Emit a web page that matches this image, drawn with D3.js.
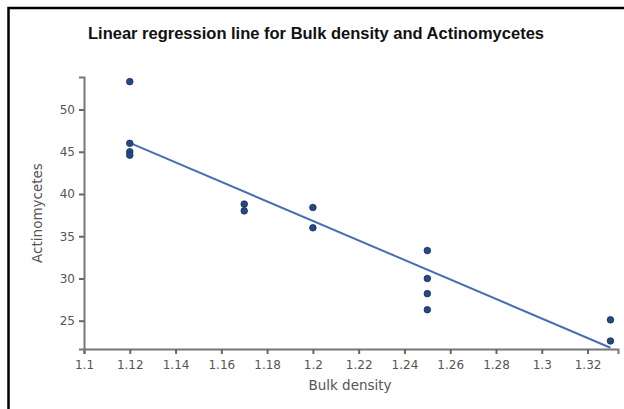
<!DOCTYPE html>
<html><head><meta charset="utf-8">
<script src="https://cdn.jsdelivr.net/npm/d3@7"></script>
<style>html,body{margin:0;padding:0;background:#fff;}svg{display:block;}</style>
</head><body>
<script>
const title = "Linear regression line for Bulk density and Actinomycetes";
const xLabel = "Bulk density";
const yLabel = "Actinomycetes";
const bulkDensity = [1.12,1.12,1.12,1.12,1.17,1.17,1.2,1.2,1.25,1.25,1.25,1.25,1.33,1.33];
const actinomycetes = [53.3,46.0,45.0,44.6,38.8,38.0,38.4,36.0,33.3,30.0,28.2,26.3,25.1,22.6];
const fitX = [1.12, 1.33];
const fitY = [46.05, 21.8];
const xTicks = [1.1,1.12,1.14,1.16,1.18,1.2,1.22,1.24,1.26,1.28,1.3,1.32];
const yTicks = [25,30,35,40,45,50];

const W = 624, H = 409;
const svg = d3.select("body").append("svg").attr("width", W).attr("height", H);
svg.append("rect").attr("width", W).attr("height", H).attr("fill", "#fff");
// frame (left and top edges visible)
svg.append("path").attr("d", `M8.5,${H} L8.5,8 L${W},8`).attr("fill","none").attr("stroke","#000").attr("stroke-width",2.5);

const x = d3.scaleLinear().domain([1.1, 1.3333]).range([84, 618]);
const y = d3.scaleLinear().domain([21.65, 53.85]).range([349, 77]);

svg.append("text").attr("x", 316).attr("y", 39).attr("text-anchor","middle")
  .attr("font-family","Liberation Sans, Arial, sans-serif").attr("font-weight","bold")
  .attr("font-size", 16.5).attr("fill","#111").text(title);

const xAxis = svg.append("g").attr("transform","translate(0,349)")
  .call(d3.axisBottom(x).tickValues(xTicks).tickFormat(d3.format("")).tickSizeOuter(0).tickSize(5).tickPadding(6));
const yAxis = svg.append("g").attr("transform","translate(84,0)")
  .call(d3.axisLeft(y).tickValues(yTicks).tickSizeOuter(0).tickSize(5).tickPadding(4));
[xAxis, yAxis].forEach(g => {
  g.select(".domain").attr("stroke","#777").attr("stroke-width",2);
  g.selectAll(".tick line").attr("stroke","#666").attr("stroke-width",2);
  g.selectAll(".tick text").attr("fill","#555").attr("font-family","DejaVu Sans, Verdana, sans-serif").attr("font-size",12);
});

svg.append("text").attr("x", 350).attr("y", 390).attr("text-anchor","middle")
  .attr("font-family","DejaVu Sans, Verdana, sans-serif").attr("font-size",13.5).attr("fill","#555").text(xLabel);
svg.append("text").attr("transform","translate(42,213) rotate(-90)").attr("text-anchor","middle")
  .attr("font-family","DejaVu Sans, Verdana, sans-serif").attr("font-size",13.5).attr("fill","#555").text(yLabel);

svg.append("line")
  .attr("x1", x(fitX[0])).attr("y1", y(fitY[0]))
  .attr("x2", x(fitX[1])).attr("y2", y(fitY[1]))
  .attr("stroke","#4a6db3").attr("stroke-width",2);

svg.selectAll("circle.pt").data(bulkDensity).enter().append("circle").attr("class","pt")
  .attr("cx", d => x(d)).attr("cy", (d,i) => y(actinomycetes[i])).attr("r", 3.3)
  .attr("fill","#234a85").attr("stroke","#1a2f55").attr("stroke-width",0.8);
</script>
</body></html>
